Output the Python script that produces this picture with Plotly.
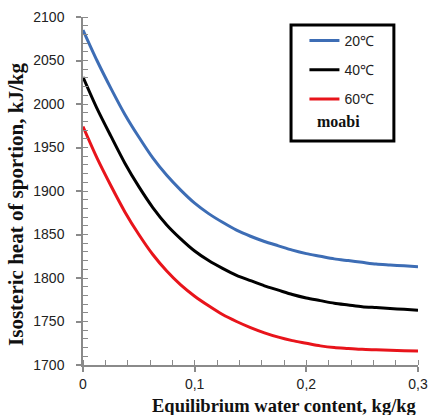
import plotly.graph_objects as go

# Equilibrium water content (kg/kg)
x_vals = [0, 0.0125, 0.025, 0.0375, 0.05, 0.0625, 0.075, 0.0875, 0.1, 0.1125,
          0.125, 0.1375, 0.15, 0.1625, 0.175, 0.1875, 0.2, 0.2125, 0.225, 0.2375,
          0.25, 0.2625, 0.275, 0.2875, 0.3]
# Isosteric heat of sorption (kJ/kg)
q_20 = [2085, 2050, 2018, 1988, 1962, 1938, 1918, 1901, 1886, 1874,
        1864, 1855, 1848, 1842, 1837, 1832, 1828, 1825, 1822, 1820,
        1818, 1816, 1815, 1814, 1813]
q_40 = [2031, 1995, 1963, 1932, 1905, 1881, 1861, 1845, 1831, 1820,
        1811, 1803, 1797, 1791, 1786, 1781, 1777, 1774, 1771, 1769,
        1767, 1766, 1765, 1764, 1763]
q_60 = [1974, 1938, 1906, 1876, 1850, 1827, 1808, 1792, 1779, 1768,
        1758, 1750, 1743, 1737, 1732, 1728, 1725, 1722, 1720, 1719,
        1718, 1717.5, 1717, 1716.5, 1716]
series_names = ["20\u2103", "40\u2103", "60\u2103"]
series_colors = ["#3d6db5", "#000000", "#e8141b"]

x_ticks = [0, 0.1, 0.2, 0.3]
x_ticktext = ["0", "0,1", "0,2", "0,3"]
y_ticks = [1700, 1750, 1800, 1850, 1900, 1950, 2000, 2050, 2100]

fig = go.Figure()
for i, (name, ys, col) in enumerate(zip(series_names, [q_20, q_40, q_60], series_colors)):
    fig.add_trace(go.Scatter(x=x_vals, y=ys, mode="lines", name=name,
                             legendgroup=f"g{i}",
                             line=dict(color=col, width=3, shape="spline", smoothing=0.8)))

axis_common = dict(showline=True, linecolor="#8a8a8a", linewidth=1.5,
                   ticks="outside", ticklen=5, tickcolor="#8a8a8a", tickwidth=1.5,
                   showgrid=False, zeroline=False, mirror=False,
                   tickfont=dict(family="Liberation Sans", size=14, color="#222222"))

fig.update_xaxes(range=[0, 0.3], tickvals=x_ticks, ticktext=x_ticktext,
                 minor=dict(dtick=0.02, ticks="inside", ticklen=5, tickcolor="#8a8a8a", tickwidth=1.2),
                 **axis_common)
fig.update_yaxes(range=[1700, 2100], tickvals=y_ticks, ticklabelstandoff=9,
                 minor=dict(dtick=10, ticks="inside", ticklen=5, tickcolor="#8a8a8a", tickwidth=1.2),
                 **axis_common)

fig.update_layout(
    width=429, height=415,
    margin=dict(l=83, r=11, t=17, b=50, autoexpand=False),
    paper_bgcolor="white", plot_bgcolor="white",
    showlegend=True,
    legend=dict(x=0.661, y=0.977, xanchor="left", yanchor="top",
                bgcolor="rgba(0,0,0,0)", borderwidth=0,
                tracegroupgap=8,
                font=dict(family="Liberation Sans", size=14, color="#222222")),
    annotations=[
        dict(text="<b>Equilibrium water content, kg/kg</b>", xref="paper", yref="paper",
             x=0.6, y=-0.118, xanchor="center", yanchor="middle", showarrow=False,
             font=dict(family="Liberation Serif", size=18.5, color="#111111")),
        dict(text="<b>Isosteric heat of sportion, kJ/kg</b>", xref="paper", yref="paper",
             x=-0.2, y=0.46, xanchor="center", yanchor="middle", textangle=-90, showarrow=False,
             font=dict(family="Liberation Serif", size=21, color="#111111")),
        dict(text="<b>moabi</b>", xref="paper", yref="paper",
             x=0.693, y=0.701, xanchor="left", yanchor="middle", showarrow=False,
             font=dict(family="Liberation Serif", size=16, color="#111111")),
    ],
    shapes=[
        dict(type="rect", xref="paper", yref="paper", x0=0.621, x1=0.928, y0=0.644, y1=0.977,
             line=dict(color="black", width=3), fillcolor="rgba(0,0,0,0)"),
    ],
)

fig.write_html("out.html",
               config={"displayModeBar": False},
               post_script="document.body.style.margin='0';document.body.style.overflow='hidden';")
